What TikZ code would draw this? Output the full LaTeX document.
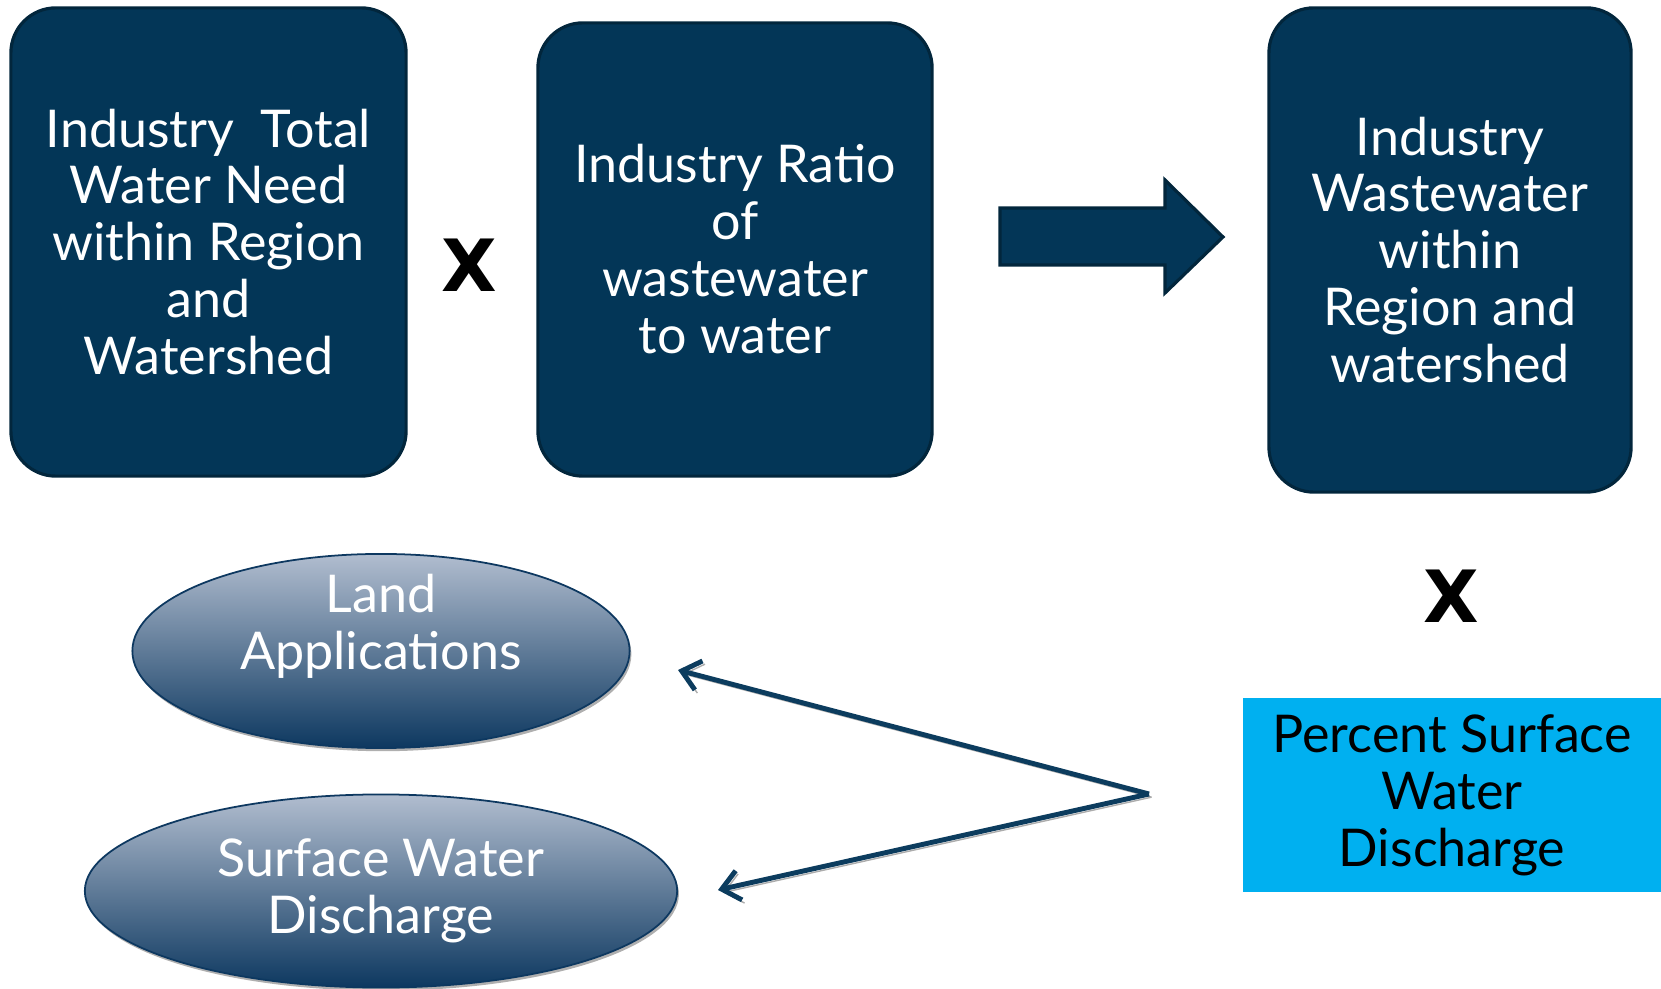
\documentclass[tikz,border=0pt]{standalone}
\usepackage{fontspec}
\setmainfont{Lato}
\newfontfamily\markfont{DejaVu Sans}
\usetikzlibrary{arrows.meta,shapes.geometric,shadows}

\definecolor{navy}{RGB}{3,54,87}
\definecolor{navyedge}{RGB}{2,38,60}
\definecolor{skyblue}{RGB}{0,176,240}
\definecolor{elltop}{RGB}{177,189,207}
\definecolor{ellbot}{RGB}{13,56,96}
\definecolor{linkcol}{RGB}{12,60,94}

\tikzset{
	calcbox/.style={draw=navyedge, line width=0.9pt, fill=navy, rounded corners=12.8pt,
		text=white, align=center, inner sep=0pt, font=\fontsize{14.8}{16.2}\selectfont},
	pctbox/.style={fill=skyblue, text=black, align=center, inner sep=0pt,
		font=\fontsize{14.8}{16.2}\selectfont},
	timesmark/.style={font=\markfont\fontsize{20.5}{21}\bfseries\selectfont},
	outdisk/.style={ellipse, draw=ellbot, line width=0.5pt, top color=elltop, bottom color=ellbot,
		inner sep=0pt, drop shadow={shadow xshift=0.5pt, shadow yshift=-0.9pt, fill=gray!70, opacity=0.9}},
	disktext/.style={text=white, align=center, font=\fontsize{14.8}{16.2}\selectfont},
	splitlink/.style={draw=linkcol, line width=1.4pt, -{Straight Barb[length=5pt,width=8.5pt]},
		preaction={draw=gray!65, transform canvas={shift={(0.7pt,-0.9pt)}}}}
}

\begin{document}
\begin{tikzpicture}[x=0.01cm, y=-0.01cm]
	\useasboundingbox (0,0) rectangle (1661,989);

	% top row
	\node[calcbox, minimum width=3.95cm, minimum height=4.68cm] (need) at (208.5,242)
		{Industry\ \ Total\\Water Need\\within Region\\and\\Watershed};
	\node[timesmark] (times1) at (469,265) {X};
	\node[calcbox, minimum width=3.94cm, minimum height=4.53cm] (ratio) at (735,249.5)
		{Industry Ratio\\of\\wastewater\\to water};
	\node[calcbox, minimum width=3.62cm, minimum height=4.84cm] (waste) at (1450,250)
		{Industry\\Wastewater\\within\\Region and\\watershed};

	% block arrow
	\filldraw[fill=navy, draw=navyedge, line width=0.9pt]
		(1000,208) -- (1165,208) -- (1165,180) -- (1223,237) -- (1165,293) -- (1165,265) -- (1000,265) -- cycle;

	% right column
	\node[timesmark] (times2) at (1451,596) {X};
	\node[pctbox, minimum width=4.18cm, minimum height=1.94cm] (pct) at (1452,795)
		{Percent Surface\\Water\\Discharge};

	% outcomes
	\node[outdisk, minimum width=4.97cm, minimum height=1.94cm] (land) at (381,651) {};
	\node[disktext] (landtxt) at (381,626) {Land\\Applications};
	\node[outdisk, minimum width=5.92cm, minimum height=1.93cm] (surf) at (381,891) {};
	\node[disktext] (surftxt) at (381,891) {Surface Water\\Discharge};

	% split arrows
	\coordinate (split) at (1149,794);
	\coordinate (landend) at (678,670);
	\coordinate (surfend) at (718,890);
	\draw[splitlink] (split) -- (landend);
	\draw[splitlink] (split) -- (surfend);

\end{tikzpicture}
\end{document}
